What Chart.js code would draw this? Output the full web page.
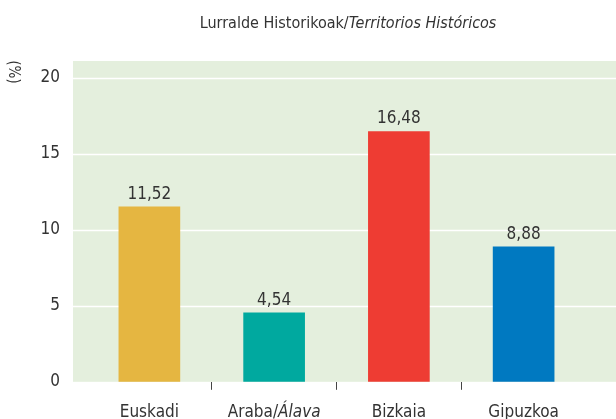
<!DOCTYPE html>
<html>
<head>
<meta charset="utf-8">
<script src="https://cdn.jsdelivr.net/npm/chart.js@4"></script>
<style>
  html, body { margin: 0; padding: 0; background: #fff; }
  canvas { display: block; }
</style>
</head>
<body>
<canvas id="chart" width="616" height="419"></canvas>
<script>
// data
const chartTitle = 'Lurralde Historikoak/Territorios Históricos';
const unitLabel  = '(%)';
const categories = ['Euskadi', 'Araba/Álava', 'Bizkaia', 'Gipuzkoa'];
const values     = [11.52, 4.54, 16.48, 8.88];
const barColors  = ['#e5b641', '#00a99f', '#ee3c33', '#0079c1'];
const yTicks     = [0, 5, 10, 15, 20];

const FONT = "'Liberation Sans Narrow', 'Arial Narrow', 'DejaVu Sans Condensed', sans-serif";
const TEXT = '#333333';
const PANEL = '#e4efdd';

// text after the slash is the Spanish name, set in italics
function drawMixed(ctx, text, cx, y, size) {
  const cut = text.indexOf('/');
  const parts = cut < 0 ? [[text, false]] : [[text.slice(0, cut + 1), false], [text.slice(cut + 1), true]];
  const widths = parts.map(([t, it]) => {
    ctx.font = (it ? 'italic ' : '') + size + 'px ' + FONT;
    return ctx.measureText(t).width;
  });
  let x = cx - widths.reduce((a, b) => a + b, 0) / 2;
  ctx.textAlign = 'left';
  ctx.textBaseline = 'alphabetic';
  parts.forEach(([t, it], i) => {
    ctx.font = (it ? 'italic ' : '') + size + 'px ' + FONT;
    ctx.fillText(t, x, y);
    x += widths[i];
  });
}

const panelPlugin = {
  id: 'panel',
  beforeDatasetsDraw(chart) {
    const { ctx, scales: { y } } = chart;
    const top = y.getPixelForValue(20) - 17;
    const bottom = y.getPixelForValue(0);
    ctx.save();
    ctx.fillStyle = PANEL;
    ctx.fillRect(73, top, chart.width - 73, bottom - top);
    ctx.strokeStyle = '#ffffff';
    ctx.lineWidth = 1.5;
    yTicks.filter(v => v > 0).forEach(v => {
      const py = Math.round(y.getPixelForValue(v)) + 0.5;
      ctx.beginPath();
      ctx.moveTo(73, py);
      ctx.lineTo(chart.width, py);
      ctx.stroke();
    });
    ctx.restore();
  },
  afterDatasetsDraw(chart) {
    const { ctx, scales: { x } } = chart;
    ctx.save();
    ctx.fillStyle = TEXT;

    // value labels
    const meta = chart.getDatasetMeta(0);
    ctx.font = '17px ' + FONT;
    ctx.textAlign = 'center';
    ctx.textBaseline = 'alphabetic';
    meta.data.forEach((bar, i) => {
      ctx.fillText(values[i].toFixed(2).replace('.', ','), bar.x, bar.y - 8);
    });

    // category labels
    categories.forEach((c, i) => drawMixed(ctx, c, x.getPixelForValue(i), 417, 17));

    // title
    drawMixed(ctx, chartTitle, 348, 28, 16);

    // unit
    ctx.translate(12.5, 72);
    ctx.rotate(Math.PI / 2);
    ctx.font = '15px ' + FONT;
    ctx.textAlign = 'center';
    ctx.textBaseline = 'middle';
    ctx.fillText(unitLabel, 0, 0);
    ctx.restore();
  }
};

new Chart(document.getElementById('chart'), {
  type: 'bar',
  data: {
    labels: categories,
    datasets: [{ data: values, backgroundColor: barColors, barThickness: 61 }]
  },
  options: {
    responsive: false,
    animation: false,
    layout: { padding: { top: 78, right: 30, left: 0, bottom: 0 } },
    plugins: { legend: { display: false }, tooltip: { enabled: false } },
    scales: {
      x: {
        offset: true,
        border: { display: false },
        grid: {
          offset: true,
          drawOnChartArea: false,
          tickLength: 8,
          lineWidth: 1,
          // only the three inner separators are drawn
          color: c => (c.index > 0 && c.index < categories.length) ? '#444' : 'rgba(0,0,0,0)'
        },
        ticks: { display: false },
        afterFit: s => { s.height = 35; }
      },
      y: {
        min: 0, max: 20,
        border: { display: false },
        grid: { display: false, drawTicks: false },
        ticks: { stepSize: 5, padding: 27, color: TEXT, font: { family: FONT, size: 17 } },
        afterFit: s => { s.width = 87; }
      }
    }
  },
  plugins: [panelPlugin]
});
</script>
</body>
</html>
